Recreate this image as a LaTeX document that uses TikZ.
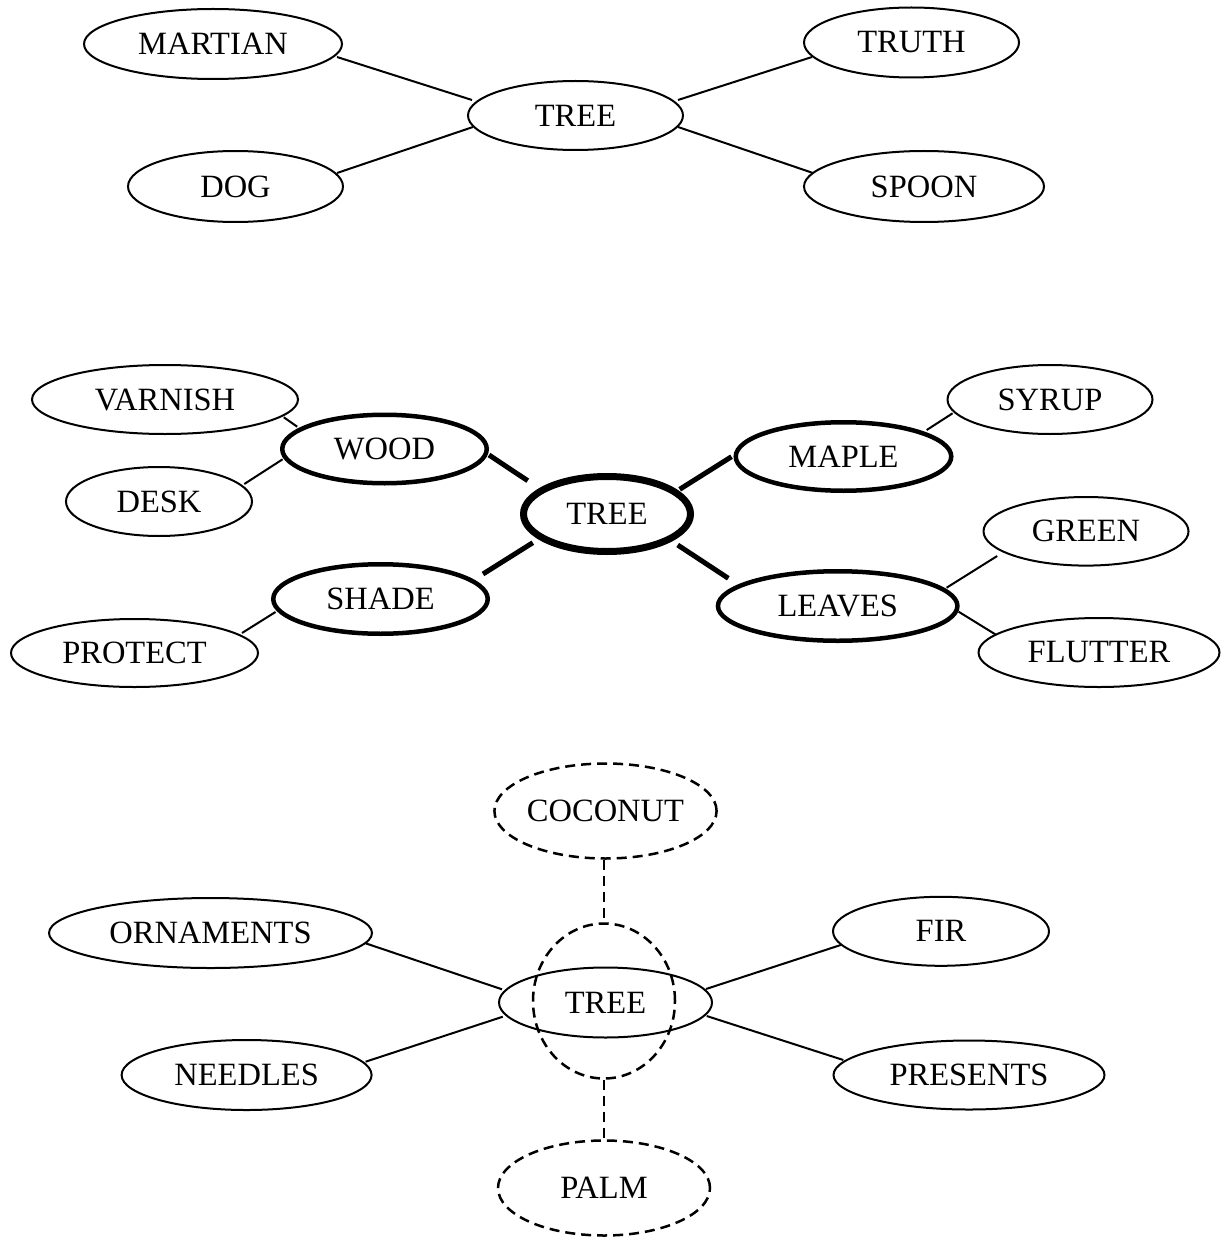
\documentclass[tikz,border=0pt]{standalone}
\usepackage{fontspec}
\setmainfont{Liberation Serif}
\usetikzlibrary{shapes.geometric,calc}
\begin{document}
\begin{tikzpicture}[x=1pt,y=-1pt,
  el/.style={ellipse, draw, line width=2pt, inner sep=0pt, font=\fontsize{32.5}{38}\selectfont},
  thk/.style={el, line width=4.5pt},
  thkr/.style={el, line width=7pt},
  dsh/.style={el, line width=2.5pt, dash pattern=on 10pt off 6pt},
  ln/.style={line width=2pt},
  tln/.style={line width=5pt},
  dln/.style={line width=2.5pt, dash pattern=on 10pt off 6pt}]
\useasboundingbox (0,0) rectangle (1224,1241);
% ---------- top ----------
\node[el, minimum width=258pt, minimum height=70pt] (martian) at (213,44) {MARTIAN};
\node[el, minimum width=215pt, minimum height=69pt] (tree1) at (575.5,115.5) {TREE};
\node[el, minimum width=215pt, minimum height=70pt] (truth) at (911.5,42.5) {TRUTH};
\node[el, minimum width=215pt, minimum height=71pt] (dog) at (235.5,186.5) {DOG};
\node[el, minimum width=240pt, minimum height=71pt] (spoon) at (924,186.5) {SPOON};
\draw[ln] ($(martian)+(124,13)$) -- ($(tree1)+(-103.5,-15.5)$);
\draw[ln] ($(dog)+(101.5,-13.5)$) -- ($(tree1)+(-102.5,11.5)$);
\draw[ln] ($(tree1)+(102.5,-15.5)$) -- ($(truth)+(-99.5,14.5)$);
\draw[ln] ($(tree1)+(102.5,11.5)$) -- ($(spoon)+(-111,-13.5)$);
% ---------- middle ----------
\node[el, minimum width=266pt, minimum height=69pt] (varnish) at (165,399.5) {VARNISH};
\node[thk, minimum width=204.5pt, minimum height=68.5pt] (wood) at (384.5,449) {WOOD};
\node[el, minimum width=186pt, minimum height=69pt] (desk) at (159,501.5) {DESK};
\node[thk, minimum width=214.5pt, minimum height=69.5pt] (shade) at (380.5,599) {SHADE};
\node[el, minimum width=247pt, minimum height=68pt] (protect) at (134.5,653) {PROTECT};
\node[thkr, minimum width=167pt, minimum height=75pt] (tree2) at (607,514) {TREE};
\node[thk, minimum width=215.5pt, minimum height=68.5pt] (maple) at (843.5,456.5) {MAPLE};
\node[el, minimum width=205pt, minimum height=69pt] (syrup) at (1050,399.5) {SYRUP};
\node[el, minimum width=205pt, minimum height=68.6pt] (green) at (1086,531.3) {GREEN};
\node[thk, minimum width=239.5pt, minimum height=69.5pt] (leaves) at (837.7,606) {LEAVES};
\node[el, minimum width=241pt, minimum height=69pt] (flutter) at (1099,652.5) {FLUTTER};
\draw[ln] ($(varnish)+(118.8,17.8)$) -- ($(wood)+(-87.3,-22.3)$);
\draw[ln] ($(desk)+(85.3,-17.5)$) -- ($(wood)+(-101.9,10.3)$);
\draw[tln] ($(wood)+(104.5,6)$) -- ($(tree2)+(-79.3,-33.3)$);
\draw[tln] ($(shade)+(102.5,-25)$) -- ($(tree2)+(-74.2,28.7)$);
\draw[ln] ($(protect)+(107.5,-20)$) -- ($(shade)+(-105,13)$);
\draw[tln] ($(tree2)+(72.7,-24.7)$) -- ($(maple)+(-112,0.2)$);
\draw[ln] ($(maple)+(83.2,-26.5)$) -- ($(syrup)+(-97.4,13.8)$);
\draw[tln] ($(tree2)+(70.7,31)$) -- ($(leaves)+(-109.4,-27.7)$);
\draw[ln] ($(leaves)+(108.9,-18.3)$) -- ($(green)+(-88.8,24.7)$);
\draw[ln] ($(leaves)+(120.9,5.7)$) -- ($(flutter)+(-102.6,-17.5)$);
% ---------- bottom ----------
\node[dsh, minimum width=213pt, minimum height=95pt] (coconut) at (605.5,811) {COCONUT};
\node[el, minimum width=323pt, minimum height=70pt] (ornaments) at (210.5,933) {ORNAMENTS};
\node[el, minimum width=250pt, minimum height=70pt] (needles) at (246.6,1075) {NEEDLES};
\node[el, minimum width=213pt, minimum height=70pt] (tree3) at (605.5,1002.5) {TREE};
\node[dsh, minimum width=142pt, minimum height=155pt] (circ) at (604,1001) {};
\node[el, minimum width=216pt, minimum height=69pt] (fir) at (941,931.3) {FIR};
\node[el, minimum width=271pt, minimum height=69pt] (presents) at (969,1075) {PRESENTS};
\node[dsh, minimum width=212pt, minimum height=95pt] (palm) at (604,1188) {PALM};
\draw[ln] ($(ornaments)+(155.1,10.3)$) -- ($(tree3)+(-103.5,-13.2)$);
\draw[ln] ($(needles)+(119,-13.3)$) -- ($(tree3)+(-102.7,14.2)$);
\draw[ln] ($(tree3)+(100.5,-13.5)$) -- ($(fir)+(-100.3,13.7)$);
\draw[ln] ($(tree3)+(101.2,13.5)$) -- ($(presents)+(-125.7,-15)$);
\draw[dln] (circ.north |- coconut.south) -- (circ.north);
\draw[dln] (circ.south) -- (circ.south |- palm.north);
\end{tikzpicture}
\end{document}
